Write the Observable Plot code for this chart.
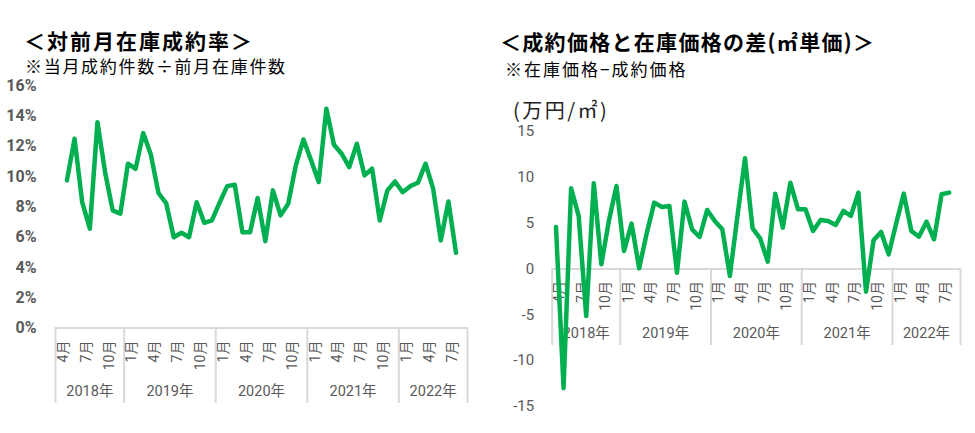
<!DOCTYPE html>
<html><head><meta charset="utf-8">
<script src="https://cdn.jsdelivr.net/npm/d3@7"></script>
<script src="https://cdn.jsdelivr.net/npm/@observablehq/plot@0.6"></script>
<style>
body{margin:0;background:#fff;width:975px;height:433px;position:relative;overflow:hidden;font-family:"Noto Sans CJK JP",sans-serif;}
.t{position:absolute;white-space:nowrap;color:#000;line-height:1;}
#c1,#c2{position:absolute;}
#c1{left:0;top:78px;}
#c2{left:487px;top:120px;}
</style></head><body>
<div class="t" style="left:24px;top:30px;font-size:21px;font-weight:700;letter-spacing:2px">＜対前月在庫成約率＞</div>
<div class="t" style="left:25px;top:57px;font-size:17px;letter-spacing:1.7px">※当月成約件数÷前月在庫件数</div>
<div class="t" style="left:500px;top:31px;font-size:21px;font-weight:700;letter-spacing:1.3px">＜成約価格と在庫価格の差(㎡単価)＞</div>
<div class="t" style="left:505px;top:60px;font-size:17px;letter-spacing:2px">※在庫価格−成約価格</div>
<div class="t" style="left:513px;top:100px;font-size:20px;letter-spacing:2.5px;color:#222">(万円/㎡)</div>
<div id="c1"></div>
<div id="c2"></div>
<script>
// ---- categories ----
const yearLabels = ["2018年", "2019年", "2020年", "2021年", "2022年"];
const yearNumbers = [2018, 2019, 2020, 2021, 2022];
const yearFirstMonth = [4, 1, 1, 1, 1];
const yearMonthCount = [9, 12, 12, 12, 9];
const monthTickMonths = [1, 4, 7, 10];

// ---- series ----
// 対前月在庫成約率 (%), 2018年5月 – 2022年8月
const rateFirst = [2018, 5];
const rateValues = [9.74, 12.49, 8.3, 6.55, 13.58, 10.28, 7.76, 7.54, 10.84, 10.5,
  12.86, 11.43, 8.9, 8.24, 5.99, 6.28, 5.99, 8.3, 6.94, 7.1,
  8.26, 9.36, 9.45, 6.32, 6.32, 8.57, 5.73, 9.08, 7.43, 8.2,
  10.73, 12.44, 11.06, 9.63, 14.47, 12.09, 11.5, 10.62, 12.16, 10.07,
  10.51, 7.1, 9.08, 9.67, 8.96, 9.36, 9.58, 10.84, 9.19, 5.78,
  8.35, 4.96];
// 成約価格と在庫価格の差 (万円/㎡), 2018年4月 – 2022年8月
const diffFirst = [2018, 4];
const diffValues = [4.59, -13.0, 8.81, 5.79, -5.13, 9.36, 0.51, 5.27, 9.06, 1.97,
  4.95, 0.08, 3.9, 7.24, 6.77, 6.88, -0.4, 7.35, 4.33, 3.49,
  6.44, 5.24, 4.33, -0.76, 5.79, 12.08, 4.44, 3.35, 0.8, 8.22,
  4.51, 9.42, 6.52, 6.52, 4.15, 5.35, 5.24, 4.8, 6.33, 5.79,
  8.33, -2.47, 3.13, 4.04, 1.6, 4.99, 8.22, 4.15, 3.53, 5.16,
  3.24, 8.15, 8.33];

// ---- tick labels ----
const rateTicks = [0, 2, 4, 6, 8, 10, 12, 14, 16];
const diffTicks = [-15, -10, -5, 0, 5, 10, 15];

// ---- build tables ----
const categories = [];
yearNumbers.forEach((y, k) => {
  for (let j = 0; j < yearMonthCount[k]; j++) categories.push({year: y, month: yearFirstMonth[k] + j});
});
const idxOf = (y, m) => categories.findIndex(c => c.year === y && c.month === m);
const nCat = categories.length;
const monthTicks = categories.map((c, i) => ({i, label: c.month + "月", month: c.month}))
  .filter(d => monthTickMonths.includes(d.month));
const yearTicks = [];
const yearBounds = [0];
{ let acc = 0;
  yearLabels.forEach((lab, k) => {
    yearTicks.push({label: lab, center: acc + yearMonthCount[k] / 2});
    acc += yearMonthCount[k];
    yearBounds.push(acc);
  });
}
const rateData = rateValues.map((v, j) => ({i: idxOf(...rateFirst) + j, v}));
const diffData = diffValues.map((v, j) => ({i: idxOf(...diffFirst) + j, v}));

const GREEN = "#00B050", GRID = "#D9D9D9", LABEL = "#595959";
const numFont = "Roboto, 'Noto Sans CJK JP', sans-serif";

function categoryMarks(sepInsetTop, sepInsetBottom, monthDy, yearDy) {
  return [
    Plot.ruleY([0], {stroke: GRID, strokeWidth: 2}),
    Plot.ruleX(yearBounds, {x: d => d, stroke: GRID, strokeWidth: 2, insetTop: sepInsetTop, insetBottom: sepInsetBottom}),
    Plot.text(monthTicks, {x: d => d.i + 0.5, y: () => 0, text: "label", rotate: -90, textAnchor: "end",
      dy: monthDy, dx: 4, fontSize: 14, fontWeight: 400, fill: LABEL}),
    Plot.text(yearTicks, {x: "center", y: () => 0, text: "label", dy: yearDy, fontSize: 14.5, fontWeight: 400, fill: LABEL})
  ];
}

const left = Plot.plot({
  width: 487, height: 340,
  marginLeft: 55, marginRight: 20, marginTop: 7, marginBottom: 90.5,
  x: {domain: [0, nCat], axis: null},
  y: {domain: [0, 16], ticks: rateTicks, tickFormat: d => d + "%", tickSize: 0, tickPadding: 19, label: null},
  style: {fontFamily: numFont, fontSize: "16px", fontWeight: 700, color: LABEL, background: "transparent", overflow: "visible"},
  marks: [
    ...categoryMarks(242.5, -75.5, 12.5, 63.5),
    Plot.line(rateData, {x: d => d.i + 0.5, y: "v", stroke: GREEN, strokeWidth: 4.5, strokeLinejoin: "round"})
  ]
});
document.getElementById("c1").appendChild(left);

const right = Plot.plot({
  width: 488, height: 300,
  marginLeft: 64.7, marginRight: 15, marginTop: 11, marginBottom: 14,
  x: {domain: [0, nCat], axis: null},
  y: {domain: [-15, 15], ticks: diffTicks, tickFormat: d => String(d), tickSize: 0, tickPadding: 18, label: null},
  style: {fontFamily: numFont, fontSize: "15px", fontWeight: 400, color: LABEL, background: "transparent", overflow: "visible"},
  marks: [
    ...categoryMarks(137.5, 61, 12, 64.5),
    Plot.line(diffData, {x: d => d.i + 0.5, y: "v", stroke: GREEN, strokeWidth: 4.5, strokeLinejoin: "round"})
  ]
});
document.getElementById("c2").appendChild(right);
</script>
</body></html>
